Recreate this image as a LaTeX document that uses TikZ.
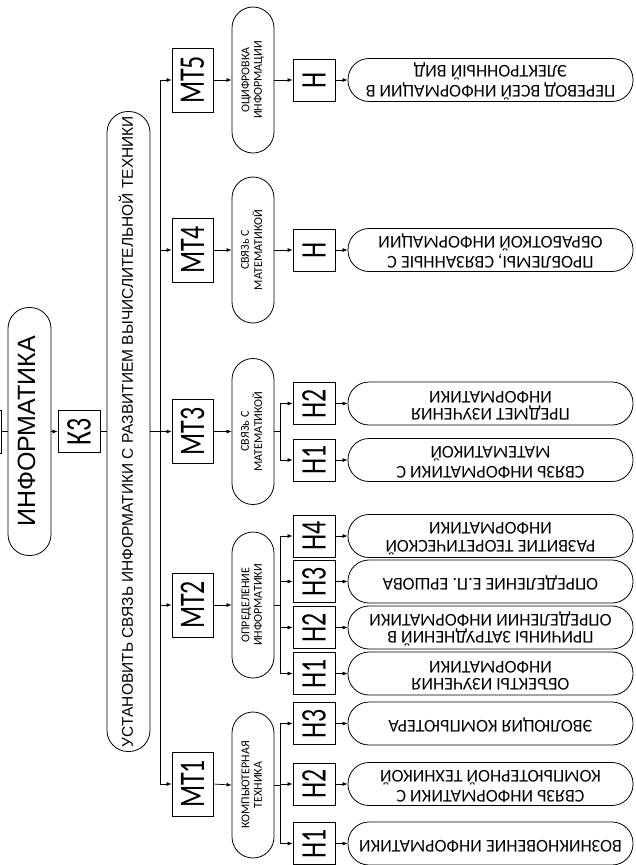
\documentclass[tikz,border=0pt]{standalone}
\usepackage{fontspec}
\usepackage{graphicx}
\setmainfont{Carlito}
\newfontfamily\arialf{Liberation Sans}
\usetikzlibrary{arrows.meta}
\newcommand{\rl}[3]{\rotatebox{#1}{#2\begin{tabular}{@{}c@{}}#3\end{tabular}}}
\newcommand{\lab}[1]{\rotatebox{90}{\fontsize{36}{36}\selectfont\scalebox{0.72}[1]{#1}}}
\newcommand{\leaff}{\fontsize{18}{17.5}\selectfont}
\newcommand{\subf}{\fontsize{12}{12.5}\selectfont}
\tikzset{
  box/.style={draw, line width=0.8pt, inner sep=0pt, minimum width=42pt, minimum height=42pt},
  mtbox/.style={box, minimum width=41pt, minimum height=64pt},
  pill/.style={draw, line width=0.8pt, inner sep=0pt, rounded corners=21pt},
  subj/.style={pill, minimum width=42pt, minimum height=146pt},
  leaf/.style={pill, minimum width=285pt, minimum height=43pt},
  arr/.style={-{Latex[length=5pt,width=4pt]}, line width=0.7pt},
  ln/.style={line width=0.7pt}
}
\begin{document}
\begin{tikzpicture}[x=1pt,y=-1pt]
\useasboundingbox (0,0) rectangle (635,865);
\clip (0,0) rectangle (635,865);
% root chain
\node[box, minimum width=42pt, minimum height=43pt] (cut) at (-20,431.5) {};
\node[pill, minimum width=43pt, minimum height=248pt] (info) at (29.5,431.5) {\rl{90}{\arialf\fontsize{25}{28}\selectfont}{ИНФОРМАТИКА}};
\node[box] (k3) at (79,431.5) {\lab{К3}};
\node[pill, minimum width=43pt, minimum height=640pt] (goal) at (128.5,431.5) {\rl{90}{\arialf\fontsize{15.5}{17}\selectfont}{УСТАНОВИТЬ СВЯЗЬ ИНФОРМАТИКИ С РАЗВИТИЕМ ВЫЧИСЛИТЕЛЬНОЙ ТЕХНИКИ}};
\coordinate (bus) at (160,0);
\coordinate (sb) at (280,0);
% MT boxes
\node[mtbox] (m5) at (192.5,80) {\lab{МТ5}};
\node[mtbox] (m4) at (192.5,250) {\lab{МТ4}};
\node[mtbox] (m3) at (192.5,431.5) {\lab{МТ3}};
\node[mtbox] (m2) at (192.5,605) {\lab{МТ2}};
\node[mtbox] (m1) at (192.5,784) {\lab{МТ1}};
% subjects
\node[subj] (s5) at (253,80) {\rl{90}{\subf}{ОЦИФРОВКА\\ИНФОРМАЦИИ}};
\node[subj] (s4) at (253,250) {\rl{90}{\subf}{СВЯЗь С\\МАТЕМАТИКОЙ}};
\node[subj] (s3) at (253,431.5) {\rl{90}{\subf}{СВЯЗь С\\МАТЕМАТИКОЙ}};
\node[subj] (s2) at (253,605) {\rl{90}{\subf}{ОПРЕДЕЛЕНИЕ\\ИНФОРМАТИКИ}};
\node[subj] (s1) at (253,785) {\rl{90}{\subf}{КОМПЬЮТЕРНАЯ\\ТЕХНИКА}};
% H boxes
\node[box] (h51) at (314,80) {\lab{Н}};
\node[box] (h41) at (314,250) {\lab{Н}};
\node[box] (h32) at (314,403.5) {\lab{Н2}};
\node[box] (h31) at (314,460) {\lab{Н1}};
\node[box] (h24) at (314,536) {\lab{Н4}};
\node[box] (h23) at (314,581.5) {\lab{Н3}};
\node[box] (h22) at (314,627.5) {\lab{Н2}};
\node[box] (h21) at (314,673.5) {\lab{Н1}};
\node[box] (h13) at (314,723.5) {\lab{Н3}};
\node[box] (h12) at (314,784) {\lab{Н2}};
\node[box] (h11) at (314,843.5) {\lab{Н1}};
% leaves
\node[leaf] (l51) at (490.5,80) {\rl{180}{\leaff}{ПЕРЕВОД ВСЕЙ ИНФОРМАЦИИ В\\ЭЛЕКТРОННЫЙ ВИД}};
\node[leaf] (l41) at (490.5,250) {\rl{180}{\leaff}{ПРОБЛЕМЫ, СВЯЗАННЫЕ С\\ОБРАБОТКОЙ ИНФОРМАЦИИ}};
\node[leaf] (l32) at (490.5,403.5) {\rl{180}{\leaff}{ПРЕДМЕТ ИЗУЧЕНИЯ\\ИНФОРМАТИКИ}};
\node[leaf] (l31) at (490.5,460) {\rl{180}{\leaff}{СВЯЗЬ ИНФОРМАТИКИ С\\МАТЕМАТИКОЙ}};
\node[leaf] (l24) at (490.5,536) {\rl{180}{\leaff}{РАЗВИТИЕ ТЕОРЕТИЧЕСКОЙ\\ИНФОРМАТИКИ}};
\node[leaf] (l23) at (490.5,581.5) {\rl{180}{\leaff}{ОПРЕДЕЛЕНИЕ Е.П. ЕРШОВА}};
\node[leaf] (l22) at (490.5,627.5) {\rl{180}{\leaff}{ПРИЧИНЫ ЗАТРУДНЕНИЙ В\\ОПРЕДЕЛЕНИИ ИНФОРМАТИКИ}};
\node[leaf] (l21) at (490.5,673.5) {\rl{180}{\leaff}{ОБЪЕКТЫ ИЗУЧЕНИЯ\\ИНФОРМАТИКИ}};
\node[leaf] (l13) at (490.5,723.5) {\rl{180}{\leaff}{ЭВОЛЮЦИЯ КОМПЬЮТЕРА}};
\node[leaf] (l12) at (490.5,784) {\rl{180}{\leaff}{СВЯЗЬ ИНФОРМАТИКИ С\\КОМПЬЮТЕРНОЙ ТЕХНИКОЙ}};
\node[leaf] (l11) at (490.5,843.5) {\rl{180}{\leaff}{ВОЗНИКНОВЕНИЕ ИНФОРМАТИКИ}};
% connectors: root
\draw[ln] (cut.east) -- (info.west);
\draw[arr] (info.east) -- (k3.west);
\draw[ln] (k3.east) -- (goal.west);
\draw[ln] (m5.west -| bus) -- (m1.west -| bus);
\draw[arr] (goal.east) -- (m3.west);
\foreach \m in {m5,m4,m2,m1} \draw[arr] (\m.west -| bus) -- (\m.west);
% MT -> subject
\foreach \i in {1,...,5} \draw[arr] (m\i.east) -- (s\i.west);
% subject -> H
\draw[arr] (s5.east) -- (h51.west);
\draw[arr] (s4.east) -- (h41.west);
\draw[ln] (s3.east) -- (s3.east -| sb);
\draw[ln] (h32.west -| sb) -- (h31.west -| sb);
\foreach \h in {h32,h31} \draw[arr] (\h.west -| sb) -- (\h.west);
\draw[ln] (s2.east) -- (s2.east -| sb);
\draw[ln] (h24.west -| sb) -- (h21.west -| sb);
\foreach \h in {h24,h23,h22,h21} \draw[arr] (\h.west -| sb) -- (\h.west);
\draw[ln] (s1.east) -- (s1.east -| sb);
\draw[ln] (h13.west -| sb) -- (h11.west -| sb);
\foreach \h in {h13,h12,h11} \draw[arr] (\h.west -| sb) -- (\h.west);
% H -> leaf
\foreach \h in {51,41,32,31,24,23,22,21,13,12,11} \draw[arr] (h\h.east) -- (l\h.west);
\end{tikzpicture}
\end{document}
